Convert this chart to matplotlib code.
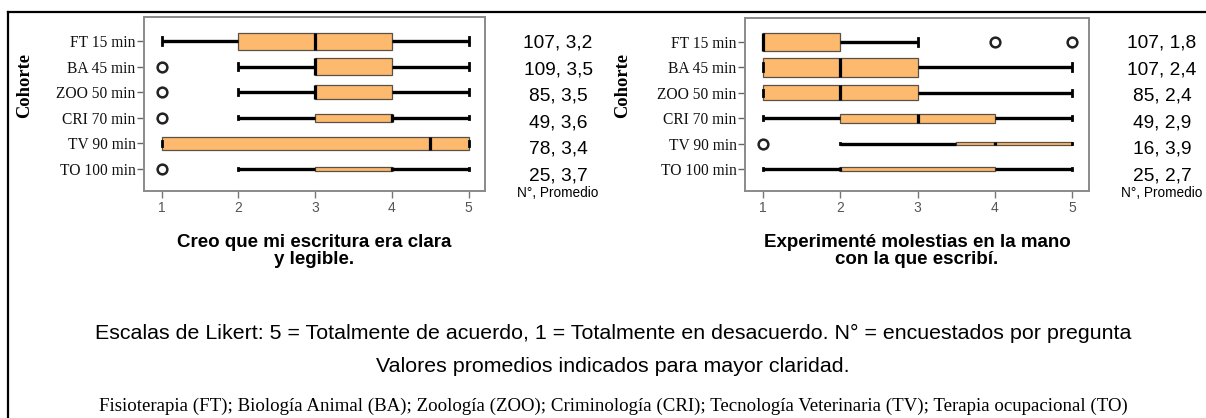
import matplotlib
matplotlib.use("Agg")
import matplotlib.pyplot as plt
from matplotlib.lines import Line2D

# cohortes y resultados de las dos preguntas (escala de Likert 1-5)
cohortes = ['FT 15 min', 'BA 45 min', 'ZOO 50 min', 'CRI 70 min', 'TV 90 min', 'TO 100 min']

# "Creo que mi escritura era clara y legible."
n_clara = [107, 109, 85, 49, 78, 25]
prom_clara = [3.2, 3.5, 3.5, 3.6, 3.4, 3.7]
wlo_clara = [1, 2, 2, 2, 1, 2]
q1_clara = [2, 3, 3, 3, 1, 3]
med_clara = [3, 3, 3, 4, 4.5, 4]
q3_clara = [4, 4, 4, 4, 5, 4]
whi_clara = [5, 5, 5, 5, 5, 5]
out_clara = [[], [1], [1], [1], [], [1]]

# "Experimenté molestias en la mano con la que escribí."
n_mano = [107, 107, 85, 49, 16, 25]
prom_mano = [1.8, 2.4, 2.4, 2.9, 3.9, 2.7]
wlo_mano = [1, 1, 1, 1, 2, 1]
q1_mano = [1, 1, 1, 2, 3.5, 2]
med_mano = [1, 2, 2, 3, 4, 2]
q3_mano = [2, 3, 3, 4, 5, 4]
whi_mano = [3, 5, 5, 5, 5, 5]
out_mano = [[4, 5], [], [], [], [1], []]

titulo_clara = 'Creo que mi escritura era clara\ny legible.'
titulo_mano = 'Experimenté molestias en la mano\ncon la que escribí.'

W, H = 1206, 418
fig = plt.figure(figsize=(W / 100, H / 100), dpi=100)

SERIF = ['Liberation Serif', 'DejaVu Serif']
SANS = ['Liberation Sans', 'DejaVu Sans']
NARROW = ['Liberation Sans Narrow', 'Liberation Sans', 'DejaVu Sans']
FILL = '#FDBA6E'


def px(x0, y0, x1, y1):
    # pixel box -> figure fraction rect
    return [x0 / W, 1 - y1 / H, (x1 - x0) / W, (y1 - y0) / H]


def panel(rect, wlo, q1, med, q3, whi, outl, n, prom, k, titulo, x_lab, x_num):
    ax = fig.add_axes(px(*rect))
    stats = []
    for i in range(len(cohortes)):
        stats.append(dict(whislo=wlo[i], q1=q1[i], med=med[i], q3=q3[i],
                          whishi=whi[i], fliers=outl[i], label=cohortes[i]))
    # alto de cada caja proporcional al numero de encuestados
    widths = [v * k for v in n]
    ax.bxp(stats, positions=range(len(cohortes)), widths=widths,
           capwidths=[w * 0.42 for w in widths],
           orientation='horizontal', patch_artist=True, showfliers=True,
           boxprops=dict(facecolor=FILL, edgecolor='#5a5048', linewidth=0.9),
           medianprops=dict(color='black', linewidth=2.3, solid_capstyle='butt'),
           whiskerprops=dict(color='black', linewidth=2.4, solid_capstyle='butt'),
           capprops=dict(color='black', linewidth=2.0),
           flierprops=dict(marker='o', markersize=7, markerfacecolor='none',
                           markeredgecolor='#222222', markeredgewidth=1.8))
    ax.set_xlim(0.77, 5.215)
    ax.set_ylim(5.86, -0.94)
    ax.set_xticks([1, 2, 3, 4, 5])
    ax.set_yticks(range(len(cohortes)))
    ax.set_yticklabels(cohortes, family=SERIF, fontsize=11.2, color='#111111')
    for lb in ax.get_xticklabels():
        lb.set_family(NARROW)
        lb.set_fontsize(10)
        lb.set_color('#555555')
    ax.tick_params(axis='y', length=5, width=1, color='#666666', pad=1)
    ax.tick_params(axis='x', length=5, width=1, color='#777777', pad=2)
    for s in ax.spines.values():
        s.set_color('#8a8a8a')
        s.set_linewidth(1.4)

    x0, y0, x1, y1 = rect
    fig.text(x_lab / W, 1 - 85 / H, 'Cohorte', rotation=90, ha='center', va='center',
             family=SERIF, fontweight='bold', fontsize=13.3)
    # N y promedio a la derecha de cada fila
    for i in range(len(cohortes)):
        txt = f'{n[i]}, {prom[i]:.1f}'.replace('.', ',')
        fig.text(x_num / W, 1 - (43 + 26.6 * i) / H, txt, ha='center', va='center',
                 family=SANS, fontsize=13.8)
    fig.text(x_num / W, 1 - 193 / H, 'N°, Promedio', ha='center', va='center',
             family=SANS, fontsize=9.8)
    fig.text((x0 + x1) / 2 / W, 1 - 251 / H, titulo, ha='center', va='center',
             family=SANS, fontweight='bold', fontsize=13.5, linespacing=0.98)
    return ax


panel((144, 17, 485, 191), wlo_clara, q1_clara, med_clara, q3_clara, whi_clara,
      out_clara, n_clara, prom_clara, 0.0062, titulo_clara, 25, 558)
panel((745, 18, 1089, 191), wlo_mano, q1_mano, med_mano, q3_mano, whi_mano,
      out_mano, n_mano, prom_mano, 0.0069, titulo_mano, 623, 1162)

fig.text(613 / W, 1 - 333 / H,
         'Escalas de Likert: 5 = Totalmente de acuerdo, 1 = Totalmente en desacuerdo. '
         'N° = encuestados por pregunta',
         ha='center', va='center', family=SANS, fontsize=15.4)
fig.text(613 / W, 1 - 367 / H, 'Valores promedios indicados para mayor claridad.',
         ha='center', va='center', family=SANS, fontsize=15.4)
fig.text(613 / W, 1 - 406 / H,
         'Fisioterapia (FT); Biología Animal (BA); Zoología (ZOO); Criminología (CRI); '
         'Tecnología Veterinaria (TV); Terapia ocupacional (TO)',
         ha='center', va='center', family=SERIF, fontsize=13.6)

# marco exterior (solo izquierda y arriba quedan dentro de la imagen)
fig.add_artist(Line2D([8 / W, 8 / W], [0, 1 - 12 / H], color='black', linewidth=1.6))
fig.add_artist(Line2D([8 / W, 1], [1 - 12 / H, 1 - 12 / H], color='black', linewidth=1.6))

fig.savefig('out.png', dpi=100)
